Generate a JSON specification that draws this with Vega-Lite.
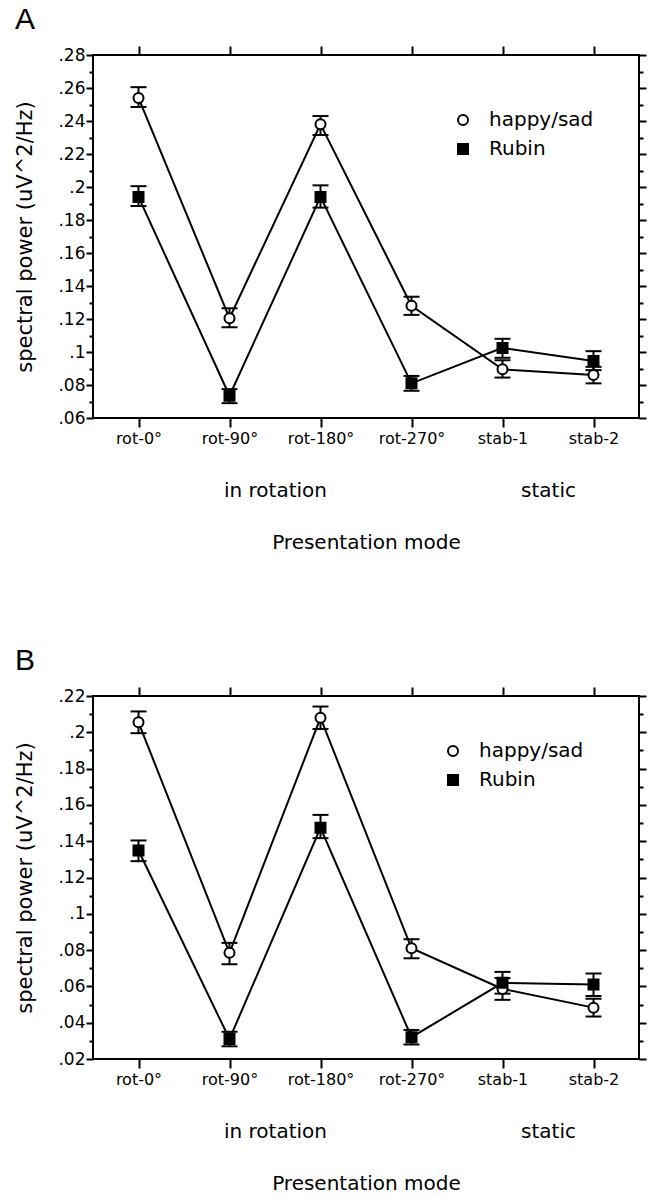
{
  "$schema": "https://vega.github.io/schema/vega-lite/v6.json",
  "background": "white",
  "padding": {"left": 13, "top": 4, "right": 2, "bottom": 0},
  "spacing": 92,
  "config": {
    "font": "DejaVu Sans",
    "view": {"stroke": "black", "strokeWidth": 2},
    "axis": {"labelColor": "black", "titleColor": "black", "tickColor": "black", "labelFont": "DejaVu Sans", "titleFont": "DejaVu Sans", "titleFontWeight": "normal", "grid": false, "domain": false, "tickWidth": 2, "labelFontSize": 16, "titleFontSize": 21},
    "title": {"fontWeight": "normal", "color": "black", "anchor": "start", "frame": "bounds", "fontSize": 30, "font": "Liberation Sans", "offset": 10},
    "legend": {"labelFont": "DejaVu Sans", "labelFontSize": 20, "labelColor": "black", "symbolStrokeColor": "black", "symbolStrokeWidth": 2, "symbolSize": 100, "labelOffset": 16, "rowPadding": 9, "padding": 0}
  },
  "datasets": {
    "vals": [
      {"panel": "A", "cat": "rot-0°", "series": "happy/sad", "mean": 0.254, "lo": 0.2485, "hi": 0.2605},
      {"panel": "A", "cat": "rot-90°", "series": "happy/sad", "mean": 0.1205, "lo": 0.115, "hi": 0.1265},
      {"panel": "A", "cat": "rot-180°", "series": "happy/sad", "mean": 0.238, "lo": 0.2315, "hi": 0.243},
      {"panel": "A", "cat": "rot-270°", "series": "happy/sad", "mean": 0.128, "lo": 0.1225, "hi": 0.1335},
      {"panel": "A", "cat": "stab-1", "series": "happy/sad", "mean": 0.0895, "lo": 0.0845, "hi": 0.095},
      {"panel": "A", "cat": "stab-2", "series": "happy/sad", "mean": 0.086, "lo": 0.081, "hi": 0.091},
      {"panel": "A", "cat": "rot-0°", "series": "Rubin", "mean": 0.194, "lo": 0.1885, "hi": 0.2005},
      {"panel": "A", "cat": "rot-90°", "series": "Rubin", "mean": 0.0735, "lo": 0.069, "hi": 0.0775},
      {"panel": "A", "cat": "rot-180°", "series": "Rubin", "mean": 0.194, "lo": 0.1875, "hi": 0.201},
      {"panel": "A", "cat": "rot-270°", "series": "Rubin", "mean": 0.081, "lo": 0.0765, "hi": 0.0855},
      {"panel": "A", "cat": "stab-1", "series": "Rubin", "mean": 0.1025, "lo": 0.0965, "hi": 0.108},
      {"panel": "A", "cat": "stab-2", "series": "Rubin", "mean": 0.0945, "lo": 0.089, "hi": 0.1005},
      {"panel": "B", "cat": "rot-0°", "series": "happy/sad", "mean": 0.2055, "lo": 0.1995, "hi": 0.2115},
      {"panel": "B", "cat": "rot-90°", "series": "happy/sad", "mean": 0.0785, "lo": 0.0722, "hi": 0.084},
      {"panel": "B", "cat": "rot-180°", "series": "happy/sad", "mean": 0.208, "lo": 0.2018, "hi": 0.2142},
      {"panel": "B", "cat": "rot-270°", "series": "happy/sad", "mean": 0.081, "lo": 0.0755, "hi": 0.086},
      {"panel": "B", "cat": "stab-1", "series": "happy/sad", "mean": 0.0586, "lo": 0.0526, "hi": 0.0646},
      {"panel": "B", "cat": "stab-2", "series": "happy/sad", "mean": 0.0483, "lo": 0.0434, "hi": 0.0532},
      {"panel": "B", "cat": "rot-0°", "series": "Rubin", "mean": 0.1349, "lo": 0.129, "hi": 0.1404},
      {"panel": "B", "cat": "rot-90°", "series": "Rubin", "mean": 0.031, "lo": 0.027, "hi": 0.035},
      {"panel": "B", "cat": "rot-180°", "series": "Rubin", "mean": 0.1474, "lo": 0.1417, "hi": 0.1545},
      {"panel": "B", "cat": "rot-270°", "series": "Rubin", "mean": 0.032, "lo": 0.028, "hi": 0.036},
      {"panel": "B", "cat": "stab-1", "series": "Rubin", "mean": 0.062, "lo": 0.056, "hi": 0.068},
      {"panel": "B", "cat": "stab-2", "series": "Rubin", "mean": 0.061, "lo": 0.0547, "hi": 0.0671}
    ]
  },
  "vconcat": [
    {
      "title": {"text": "A"},
      "width": 546,
      "height": 363,
      "data": {"name": "vals"},
      "transform": [{"filter": "datum.panel == 'A'"}],
      "layer": [
        {
          "mark": {"type": "rule", "color": "black", "strokeWidth": 2},
          "encoding": {
            "x": {"field": "cat", "type": "ordinal", "sort": ["rot-0°", "rot-90°", "rot-180°", "rot-270°", "stab-1", "stab-2"], "scale": {"type": "point", "padding": 0.5},
              "axis": {"orient": "bottom", "title": null, "labelAngle": 0, "tickSize": 9, "labelPadding": 3, "labelFontSize": 16}},
            "y": {"field": "lo", "type": "quantitative", "scale": {"domain": [0.06, 0.28], "nice": false, "zero": false},
              "axis": {"orient": "left", "values": [0.06, 0.07, 0.08, 0.09, 0.1, 0.11, 0.12, 0.13, 0.14, 0.15, 0.16, 0.17, 0.18, 0.19, 0.2, 0.21, 0.22, 0.23, 0.24, 0.25, 0.26, 0.27, 0.28],
                "labelExpr": "round(datum.value*100) % 2 == 0 ? replace(format(datum.value, '.2~f'), '0.', '.') : ''",
                "tickSize": {"condition": {"test": "round(datum.value*100) % 2 == 0", "value": 7}, "value": 4},
                "labelPadding": 1, "labelFontSize": 17, "labelOverlap": false, "title": "spectral power (uV^2/Hz)", "titlePadding": 22}},
            "y2": {"field": "hi"}
          }
        },
        {
          "mark": {"type": "tick", "color": "black", "size": 16, "thickness": 2, "opacity": 1},
          "encoding": {
            "x": {"field": "cat", "type": "ordinal", "sort": ["rot-0°", "rot-90°", "rot-180°", "rot-270°", "stab-1", "stab-2"], "scale": {"type": "point", "padding": 0.5},
              "axis": {"orient": "top", "title": null, "labels": false, "tickSize": 9}},
            "y": {"field": "hi", "type": "quantitative", "scale": {"domain": [0.06, 0.28], "nice": false, "zero": false},
              "axis": {"orient": "right", "values": [0.06, 0.07, 0.08, 0.09, 0.1, 0.11, 0.12, 0.13, 0.14, 0.15, 0.16, 0.17, 0.18, 0.19, 0.2, 0.21, 0.22, 0.23, 0.24, 0.25, 0.26, 0.27, 0.28],
                "labels": false, "title": null,
                "tickSize": {"condition": {"test": "round(datum.value*100) % 2 == 0", "value": 7}, "value": 4}}}
          }
        },
        {
          "mark": {"type": "tick", "color": "black", "size": 16, "thickness": 2, "opacity": 1},
          "encoding": {
            "x": {"field": "cat", "type": "ordinal", "sort": ["rot-0°", "rot-90°", "rot-180°", "rot-270°", "stab-1", "stab-2"], "scale": {"type": "point", "padding": 0.5},
              "axis": {"orient": "bottom", "values": ["rot-90°", "stab-1"], "labelExpr": "datum.value == 'rot-90°' ? 'in rotation' : 'static'", "labelOffset": 45.5, "labelAngle": 0, "tickSize": 0, "tickOpacity": 0, "labelPadding": 62, "labelFontSize": 20, "title": "Presentation mode", "titleFontSize": 20, "titlePadding": 32}},
            "y": {"field": "lo", "type": "quantitative", "scale": {"domain": [0.06, 0.28], "nice": false, "zero": false}, "axis": null}
          }
        },
        {
          "mark": {"type": "line", "color": "black", "strokeWidth": 2},
          "encoding": {
            "x": {"field": "cat", "type": "ordinal", "sort": ["rot-0°", "rot-90°", "rot-180°", "rot-270°", "stab-1", "stab-2"], "scale": {"type": "point", "padding": 0.5}, "axis": null},
            "y": {"field": "mean", "type": "quantitative", "scale": {"domain": [0.06, 0.28], "nice": false, "zero": false}, "axis": null},
            "detail": {"field": "series", "type": "nominal"}
          }
        },
        {
          "mark": {"type": "point", "filled": true, "strokeWidth": 2, "size": 100, "opacity": 1},
          "encoding": {
            "x": {"field": "cat", "type": "ordinal", "sort": ["rot-0°", "rot-90°", "rot-180°", "rot-270°", "stab-1", "stab-2"], "scale": {"type": "point", "padding": 0.5}, "axis": null},
            "y": {"field": "mean", "type": "quantitative", "scale": {"domain": [0.06, 0.28], "nice": false, "zero": false}, "axis": null},
            "shape": {"field": "series", "type": "nominal", "scale": {"domain": ["happy/sad", "Rubin"], "range": ["circle", "square"]},
              "legend": {"title": null, "orient": "none", "legendX": 360, "legendY": 55, "symbolStrokeColor": "black", "symbolStrokeWidth": 2}},
            "fill": {"field": "series", "type": "nominal", "scale": {"domain": ["happy/sad", "Rubin"], "range": ["white", "black"]},
              "legend": {"title": null, "orient": "none", "legendX": 360, "legendY": 55, "symbolStrokeColor": "black", "symbolStrokeWidth": 2}},
            "stroke": {"field": "series", "type": "nominal", "scale": {"domain": ["happy/sad", "Rubin"], "range": ["black", "black"]},
              "legend": {"title": null, "orient": "none", "legendX": 360, "legendY": 55, "symbolStrokeColor": "black", "symbolStrokeWidth": 2}}
          }
        }
      ],
      "resolve": {"axis": {"x": "independent", "y": "independent"}}
    },
    {
      "title": {"text": "B"},
      "width": 546,
      "height": 363,
      "data": {"name": "vals"},
      "transform": [{"filter": "datum.panel == 'B'"}],
      "layer": [
        {
          "mark": {"type": "rule", "color": "black", "strokeWidth": 2},
          "encoding": {
            "x": {"field": "cat", "type": "ordinal", "sort": ["rot-0°", "rot-90°", "rot-180°", "rot-270°", "stab-1", "stab-2"], "scale": {"type": "point", "padding": 0.5},
              "axis": {"orient": "bottom", "title": null, "labelAngle": 0, "tickSize": 9, "labelPadding": 3, "labelFontSize": 16}},
            "y": {"field": "lo", "type": "quantitative", "scale": {"domain": [0.02, 0.22], "nice": false, "zero": false},
              "axis": {"orient": "left", "values": [0.02, 0.03, 0.04, 0.05, 0.06, 0.07, 0.08, 0.09, 0.1, 0.11, 0.12, 0.13, 0.14, 0.15, 0.16, 0.17, 0.18, 0.19, 0.2, 0.21, 0.22],
                "labelExpr": "round(datum.value*100) % 2 == 0 ? replace(format(datum.value, '.2~f'), '0.', '.') : ''",
                "tickSize": {"condition": {"test": "round(datum.value*100) % 2 == 0", "value": 7}, "value": 4},
                "labelPadding": 1, "labelFontSize": 17, "labelOverlap": false, "title": "spectral power (uV^2/Hz)", "titlePadding": 22}},
            "y2": {"field": "hi"}
          }
        },
        {
          "mark": {"type": "tick", "color": "black", "size": 16, "thickness": 2, "opacity": 1},
          "encoding": {
            "x": {"field": "cat", "type": "ordinal", "sort": ["rot-0°", "rot-90°", "rot-180°", "rot-270°", "stab-1", "stab-2"], "scale": {"type": "point", "padding": 0.5},
              "axis": {"orient": "top", "title": null, "labels": false, "tickSize": 9}},
            "y": {"field": "hi", "type": "quantitative", "scale": {"domain": [0.02, 0.22], "nice": false, "zero": false},
              "axis": {"orient": "right", "values": [0.02, 0.03, 0.04, 0.05, 0.06, 0.07, 0.08, 0.09, 0.1, 0.11, 0.12, 0.13, 0.14, 0.15, 0.16, 0.17, 0.18, 0.19, 0.2, 0.21, 0.22],
                "labels": false, "title": null,
                "tickSize": {"condition": {"test": "round(datum.value*100) % 2 == 0", "value": 7}, "value": 4}}}
          }
        },
        {
          "mark": {"type": "tick", "color": "black", "size": 16, "thickness": 2, "opacity": 1},
          "encoding": {
            "x": {"field": "cat", "type": "ordinal", "sort": ["rot-0°", "rot-90°", "rot-180°", "rot-270°", "stab-1", "stab-2"], "scale": {"type": "point", "padding": 0.5},
              "axis": {"orient": "bottom", "values": ["rot-90°", "stab-1"], "labelExpr": "datum.value == 'rot-90°' ? 'in rotation' : 'static'", "labelOffset": 45.5, "labelAngle": 0, "tickSize": 0, "tickOpacity": 0, "labelPadding": 62, "labelFontSize": 20, "title": "Presentation mode", "titleFontSize": 20, "titlePadding": 32}},
            "y": {"field": "lo", "type": "quantitative", "scale": {"domain": [0.02, 0.22], "nice": false, "zero": false}, "axis": null}
          }
        },
        {
          "mark": {"type": "line", "color": "black", "strokeWidth": 2},
          "encoding": {
            "x": {"field": "cat", "type": "ordinal", "sort": ["rot-0°", "rot-90°", "rot-180°", "rot-270°", "stab-1", "stab-2"], "scale": {"type": "point", "padding": 0.5}, "axis": null},
            "y": {"field": "mean", "type": "quantitative", "scale": {"domain": [0.02, 0.22], "nice": false, "zero": false}, "axis": null},
            "detail": {"field": "series", "type": "nominal"}
          }
        },
        {
          "mark": {"type": "point", "filled": true, "strokeWidth": 2, "size": 100, "opacity": 1},
          "encoding": {
            "x": {"field": "cat", "type": "ordinal", "sort": ["rot-0°", "rot-90°", "rot-180°", "rot-270°", "stab-1", "stab-2"], "scale": {"type": "point", "padding": 0.5}, "axis": null},
            "y": {"field": "mean", "type": "quantitative", "scale": {"domain": [0.02, 0.22], "nice": false, "zero": false}, "axis": null},
            "shape": {"field": "series", "type": "nominal", "scale": {"domain": ["happy/sad", "Rubin"], "range": ["circle", "square"]},
              "legend": {"title": null, "orient": "none", "legendX": 350, "legendY": 45, "symbolStrokeColor": "black", "symbolStrokeWidth": 2}},
            "fill": {"field": "series", "type": "nominal", "scale": {"domain": ["happy/sad", "Rubin"], "range": ["white", "black"]},
              "legend": {"title": null, "orient": "none", "legendX": 350, "legendY": 45, "symbolStrokeColor": "black", "symbolStrokeWidth": 2}},
            "stroke": {"field": "series", "type": "nominal", "scale": {"domain": ["happy/sad", "Rubin"], "range": ["black", "black"]},
              "legend": {"title": null, "orient": "none", "legendX": 350, "legendY": 45, "symbolStrokeColor": "black", "symbolStrokeWidth": 2}}
          }
        }
      ],
      "resolve": {"axis": {"x": "independent", "y": "independent"}}
    }
  ],
  "resolve": {"scale": {"x": "independent", "y": "independent", "shape": "independent", "fill": "independent", "stroke": "independent"}, "legend": {"shape": "independent", "fill": "independent", "stroke": "independent"}}
}
